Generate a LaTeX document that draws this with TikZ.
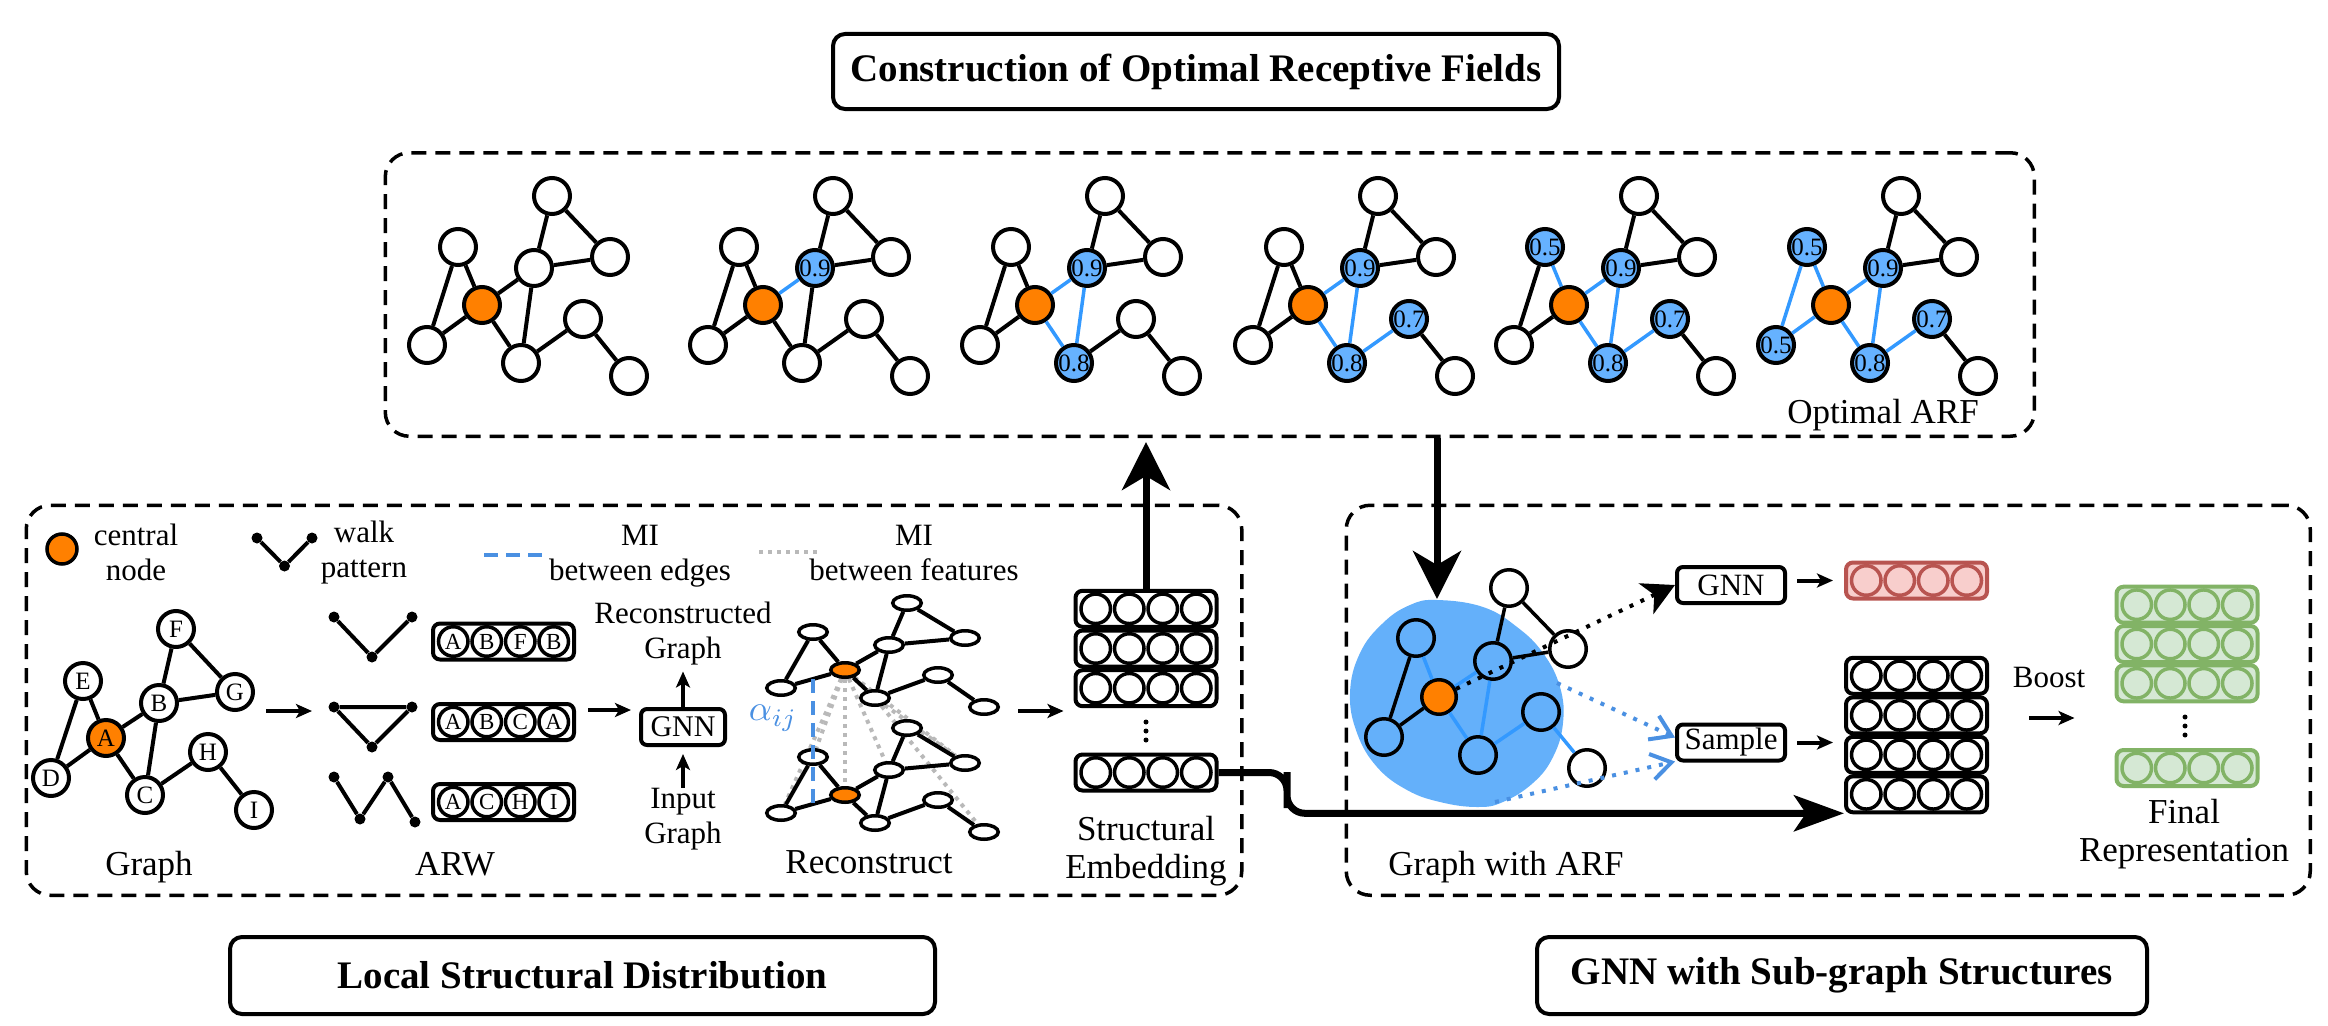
\documentclass[tikz,border=0pt]{standalone}
\usepackage{fontspec}
\setmainfont{Liberation Serif}
\usetikzlibrary{arrows.meta,calc,backgrounds,shapes.geometric}
\definecolor{orng}{RGB}{255,128,0}
\definecolor{nblue}{RGB}{102,178,255}
\definecolor{eblue}{RGB}{51,153,255}
\definecolor{blobc}{RGB}{100,176,250}
\definecolor{dblue}{RGB}{74,144,226}
\definecolor{agray}{RGB}{185,185,185}
\definecolor{redf}{RGB}{248,206,204}
\definecolor{redl}{RGB}{184,84,80}
\definecolor{grnf}{RGB}{213,232,212}
\definecolor{grnl}{RGB}{130,179,102}
\newcommand\vecbox[9]{%
  \node[#4] (#1) at (#2,#3) {};
  \node[#5] (#1a) at (#2-50.25,#3) {#6};
  \node[#5] (#1b) at (#2-16.75,#3) {#7};
  \node[#5] (#1c) at (#2+16.75,#3) {#8};
  \node[#5] (#1d) at (#2+50.25,#3) {#9};
}
\tikzset{
  wn/.style={circle,draw,line width=4pt,fill=white,minimum size=36pt,inner sep=0pt,font=\fontsize{25}{25}\selectfont},
  bn/.style={wn,fill=nblue},
  orn/.style={wn,fill=orng},
  ed/.style={line width=4pt,draw=black},
  be/.style={line width=3.5pt,draw=eblue},
  en/.style={ellipse,draw,line width=3.5pt,fill=white,minimum width=28.5pt,minimum height=14.5pt,inner sep=0pt},
  eo/.style={en,fill=orng},
  bgn/.style={wn,line width=3.5pt,fill=blobc,minimum size=36.5pt},
  bwn/.style={wn,line width=3.5pt,minimum size=36.5pt},
  bon/.style={wn,line width=3.5pt,minimum size=34.5pt,fill=orng},
  vbox/.style={draw,line width=4pt,rounded corners=7pt,minimum width=141pt,minimum height=36pt,inner sep=0pt},
  vc/.style={circle,draw,line width=3.5pt,minimum size=29.5pt,inner sep=0pt,font=\fontsize{23}{23}\selectfont},
  vboxr/.style={vbox,draw=redl,fill=redf},
  vcr/.style={vc,draw=redl,fill=redf},
  vboxg/.style={vbox,draw=grnl,fill=grnf},
  vcg/.style={vc,draw=grnl,fill=grnf},
  wdot/.style={circle,fill=black,inner sep=0pt,minimum size=11pt},
  ttl/.style={draw,line width=4pt,rounded corners=12pt,inner sep=0pt,font=\bfseries\fontsize{39}{39}\selectfont},
  dashbox/.style={draw,line width=3.5pt,dash pattern=on 15pt off 9pt,rounded corners=24pt,inner sep=0pt},
  smallbox/.style={draw,line width=4pt,rounded corners=6pt,inner sep=0pt,minimum width=108pt,minimum height=36pt,font=\fontsize{31}{31}\selectfont},
  lab/.style={inner sep=0pt,align=center,font=\fontsize{35}{38}\selectfont},
  slab/.style={inner sep=0pt,align=center,font=\fontsize{31}{35}\selectfont},
  tarr/.style={line width=4pt,-{Stealth[length=16pt,width=14pt,inset=4pt]}},
  varr/.style={line width=7pt,-{Stealth[length=48pt,width=48pt,inset=14pt]}},
  harr/.style={line width=7pt,-{Stealth[length=50pt,width=36pt,inset=12pt]}},
  gd/.style={draw=agray,line width=4pt,dash pattern=on 4pt off 5pt},
  vdotline/.style={line width=5pt,line cap=round,dash pattern=on 0pt off 9pt},
}
\begin{document}
\begin{tikzpicture}[x=1pt,y=-1pt]
\useasboundingbox (0,0) rectangle (2328,1025);

% title boxes
\node[ttl,minimum width=726pt,minimum height=75pt] (t1) at (1196,71.5) {Construction of Optimal Receptive Fields};
\node[ttl,minimum width=705pt,minimum height=77pt] (t2) at (582.5,975.5) {Local Structural Distribution};
\node[ttl,minimum width=610pt,minimum height=77pt] (t3) at (1842,975.5) {GNN with Sub-graph Structures};

% dashed frames
\node[dashbox,minimum width=1649pt,minimum height=283.5pt] (topbox) at (1209.8,294.5) {};
\node[dashbox,minimum width=1215.5pt,minimum height=390pt] (llbox) at (634,700.25) {};
\node[dashbox,minimum width=964pt,minimum height=390pt] (lrbox) at (1828.25,700.25) {};

% ---------- top: six stages ----------
\foreach \s/\dx in {0/0,1/281,2/553,3/826,4/1087,5/1349}{
\begin{scope}[xshift=\dx pt]
\ifnum\s>0 \tikzset{k1/.style={bn},l1/.style={be}}\else\tikzset{k1/.style={wn},l1/.style={ed}}\fi
\ifnum\s>1 \tikzset{k2/.style={bn},l2/.style={be}}\else\tikzset{k2/.style={wn},l2/.style={ed}}\fi
\ifnum\s>2 \tikzset{k3/.style={bn},l3/.style={be}}\else\tikzset{k3/.style={wn},l3/.style={ed}}\fi
\ifnum\s>3 \tikzset{k4/.style={bn},l4/.style={be}}\else\tikzset{k4/.style={wn},l4/.style={ed}}\fi
\ifnum\s>4 \tikzset{k5/.style={bn},l5/.style={be}}\else\tikzset{k5/.style={wn},l5/.style={ed}}\fi
\node[wn] (a\s) at (552,196) {};
\node[k4] (b\s) at (458,247) {\ifnum\s>3 0.5\fi};
\node[k1] (c\s) at (534,268) {\ifnum\s>0 0.9\fi};
\node[wn] (d\s) at (610,257) {};
\node[orn] (o\s) at (482,305) {};
\node[k5] (e\s) at (427,345) {\ifnum\s>4 0.5\fi};
\node[k2] (f\s) at (521,363) {\ifnum\s>1 0.8\fi};
\node[k3] (g\s) at (583,319) {\ifnum\s>2 0.7\fi};
\node[wn] (h\s) at (629,376) {};
\draw[ed] (c\s) -- (a\s);
\draw[ed] (a\s) -- (d\s);
\draw[ed] (c\s) -- (d\s);
\draw[ed] (g\s) -- (h\s);
\draw[l1] (o\s) -- (c\s);
\draw[l2] (o\s) -- (f\s);
\draw[l2] (c\s) -- (f\s);
\draw[l3] (f\s) -- (g\s);
\draw[l4] (b\s) -- (o\s);
\draw[l5] (b\s) -- (e\s);
\draw[l5] (e\s) -- (o\s);
\end{scope}}
\node[lab,anchor=base] (oarf) at (1883,423) {Optimal ARF};

% ---------- lower left ----------
% legend
\node[orn,line width=3.5pt,minimum size=30pt] (lgo) at (62,549) {};
\node[slab,anchor=north] (lcentral) at (136,524) {central\\node};
\node[wdot] (pl1) at (257,538) {};
\node[wdot] (pl2) at (284.5,566) {};
\node[wdot] (pl3) at (312,538) {};
\draw[ed] (pl1) -- (pl2) -- (pl3);
\node[slab,anchor=north] (lwalk) at (364,521) {walk\\pattern};
\coordinate (lb1) at (484,555);
\coordinate (lb2) at (543,555);
\draw[dblue,line width=4pt,dash pattern=on 14pt off 8pt] (lb1) -- (lb2);
\node[slab,anchor=north] (lmie) at (640,525) {MI\\between edges};
\coordinate (lg1) at (759,552);
\coordinate (lg2) at (821,552);
\draw[gd] (lg1) -- (lg2);
\node[slab,anchor=north] (lmif) at (914,525) {MI\\between features};

% input graph
\tikzset{lg/.style={wn}}
\node[lg] (nF) at (176,629) {F};
\node[lg] (nE) at (83,681) {E};
\node[lg] (nB) at (159,703) {B};
\node[lg] (nG) at (235,692) {G};
\node[orn] (nA) at (106,738) {A};
\node[lg] (nH) at (208,752) {H};
\node[lg] (nD) at (51,778) {D};
\node[lg] (nC) at (145,795) {C};
\node[lg] (nI) at (254,810) {I};
\draw[ed] (nE) -- (nD);
\draw[ed] (nE) -- (nA);
\draw[ed] (nD) -- (nA);
\draw[ed] (nA) -- (nB);
\draw[ed] (nB) -- (nF);
\draw[ed] (nF) -- (nG);
\draw[ed] (nB) -- (nG);
\draw[ed] (nB) -- (nC);
\draw[ed] (nA) -- (nC);
\draw[ed] (nC) -- (nH);
\draw[ed] (nH) -- (nI);
\node[lab,anchor=base] (glab) at (149,875) {Graph};

\coordinate (gaa) at (266,711);
\coordinate (gab) at (312,711);
\draw[tarr] (gaa) -- (gab);

% ARW walks
\node[wdot] (p1a) at (334,617) {};
\node[wdot] (p1b) at (372,657) {};
\node[wdot] (p1c) at (412,617) {};
\draw[ed] (p1a) -- (p1b) -- (p1c);
\node[wdot] (p2a) at (334,707) {};
\node[wdot] (p2b) at (412,707) {};
\node[wdot] (p2c) at (372,747) {};
\draw[ed] (p2a) -- (p2b) -- (p2c) -- (p2a);
\node[wdot] (p3a) at (334,777) {};
\node[wdot] (p3b) at (360,819) {};
\node[wdot] (p3c) at (388,777) {};
\node[wdot] (p3d) at (415,822) {};
\draw[ed] (p3a) -- (p3b) -- (p3c) -- (p3d);
\vecbox{arwa}{503.5}{641.5}{vbox}{vc}{A}{B}{F}{B}
\vecbox{arwb}{503.5}{722}{vbox}{vc}{A}{B}{C}{A}
\vecbox{arwc}{503.5}{802}{vbox}{vc}{A}{C}{H}{I}
\node[lab,anchor=base] (arwlab) at (455,875) {ARW};

% GNN
\coordinate (awa) at (588,710);
\node[smallbox,minimum width=84pt,font=\fontsize{30}{30}\selectfont] (gnnL) at (683,727) {GNN};
\draw[tarr,shorten >=8pt] (awa) -- (awa -| gnnL.west);
\node[slab,anchor=north] (reclab) at (683,602) {Reconstructed\\Graph};
\node[slab,anchor=north] (inlab) at (683,787.5) {Input\\Graph};
\draw[tarr,shorten >=6pt] (gnnL.north) -- (gnnL.north |- reclab.south);
\draw[tarr,shorten >=7pt] (gnnL.south |- inlab.north) -- (gnnL.south);

% Reconstruct graphs
\foreach \L/\dy in {u/0,w/125}{
\begin{scope}[yshift=-\dy pt]
\node[en] (\L1) at (907,603) {};
\node[en] (\L2) at (813,632) {};
\node[en] (\L3) at (889,645) {};
\node[en] (\L4) at (965,638) {};
\node[eo] (\L9) at (845,670) {};
\node[en] (\L5) at (781,688) {};
\node[en] (\L6) at (875,698) {};
\node[en] (\L7) at (938,675) {};
\node[en] (\L8) at (984,707) {};
\draw[ed] (\L2) -- (\L5);
\draw[ed] (\L2) -- (\L9);
\draw[ed] (\L5) -- (\L9);
\draw[ed] (\L9) -- (\L3);
\draw[ed] (\L3) -- (\L1);
\draw[ed] (\L1) -- (\L4);
\draw[ed] (\L3) -- (\L4);
\draw[ed] (\L3) -- (\L6);
\draw[ed] (\L9) -- (\L6);
\draw[ed] (\L6) -- (\L7);
\draw[ed] (\L7) -- (\L8);
\end{scope}}
\begin{scope}[on background layer]
\draw[gd] (u9) -- (w5);
\draw[gd] (u9) -- (w2);
\draw[gd] (u9) -- (w9);
\draw[gd] (u9) -- (w3);
\draw[gd] (u9) -- (w4);
\draw[gd] (u6) -- (w4);
\draw[gd] (u6) -- (w8);
\end{scope}
\draw[dblue,line width=4pt,dash pattern=on 14pt off 8pt] ($(u5)!0.5!(u9)$) -- ($(w5)!0.5!(w9)$);
\node[text=dblue,inner sep=0pt,scale=3.6] (alpha) at (773,718) {$\alpha_{ij}$};
\node[lab,anchor=base] (reclab2) at (869,873) {Reconstruct};

\coordinate (rca) at (1018,711);

% Structural embedding
\vecbox{sa}{1146}{608.8}{vbox}{vc}{}{}{}{}
\vecbox{sb}{1146}{648.5}{vbox}{vc}{}{}{}{}
\vecbox{sc}{1146}{688.2}{vbox}{vc}{}{}{}{}
\coordinate (sd1) at (1146,722);
\coordinate (sd2) at (1146,741);
\draw[vdotline] (sd1) -- (sd2);
\vecbox{emb}{1146}{772.5}{vbox}{vc}{}{}{}{}
\node[lab,anchor=north] (selab) at (1146,816) {Structural\\Embedding};
\draw[tarr,shorten >=10pt] (rca) -- (rca -| sa.west);

% ---------- lower right ----------
\fill[blobc] plot[smooth cycle,tension=0.7] coordinates {(1437,600) (1483,607) (1517,627) (1543,653) (1560,687) (1563,723) (1553,757) (1533,783) (1503,802) (1477,807) (1440,802) (1407,790) (1377,767) (1357,733) (1350,693) (1360,653) (1383,623) (1410,605)};
\node[bgn] (x1) at (1416,638) {};
\node[bgn] (x2) at (1384,737) {};
\node[bon] (x9) at (1439,697) {};
\node[bgn] (x3) at (1493,661) {};
\node[bwn] (x4) at (1509,588) {};
\node[bwn] (x5) at (1568,649) {};
\node[bgn] (x6) at (1478,755) {};
\node[bgn] (x7) at (1541,712) {};
\node[bwn] (x8) at (1587,768) {};
\draw[line width=3.5pt] (x1) -- (x2);
\draw[line width=3.5pt] (x2) -- (x9);
\draw[line width=3.5pt] (x3) -- (x4);
\draw[line width=3.5pt] (x4) -- (x5);
\draw[line width=3.5pt] (x3) -- (x5);
\draw[be] (x1) -- (x9);
\draw[be] (x9) -- (x3);
\draw[be] (x3) -- (x6);
\draw[be] (x9) -- (x6);
\draw[be] (x6) -- (x7);
\draw[be] (x7) -- (x8);
\node[lab,anchor=base] (gwarf) at (1506,875) {Graph with ARF};

\node[smallbox] (gnnR) at (1731,585) {GNN};
\node[smallbox] (smp) at (1731,742.5) {Sample};
\draw[line width=4pt,dash pattern=on 4pt off 8pt,-{Stealth[length=32pt,width=34pt,inset=9pt]}] (x9) -- (gnnR.west);
\coordinate (bp1) at (1557,683);
\coordinate (bp2) at (1495,802);
\draw[dblue,line width=4pt,dash pattern=on 4pt off 8pt,-{Straight Barb[length=20pt,width=26pt]}] (bp1) -- ([yshift=5pt]smp.west);
\draw[dblue,line width=4pt,dash pattern=on 4pt off 8pt,-{Straight Barb[length=20pt,width=26pt]}] (bp2) -- ([yshift=-19pt]smp.west);

\vecbox{redv}{1916.5}{580.5}{vboxr}{vcr}{}{}{}{}
\vecbox{rsa}{1916.5}{675.8}{vbox}{vc}{}{}{}{}
\vecbox{rsb}{1916.5}{715.3}{vbox}{vc}{}{}{}{}
\vecbox{rsc}{1916.5}{754.8}{vbox}{vc}{}{}{}{}
\vecbox{rsd}{1916.5}{794.3}{vbox}{vc}{}{}{}{}
\draw[tarr,shorten <=10pt,shorten >=11pt] (gnnR.east |- redv.west) -- (redv.west);
\draw[tarr,shorten <=10pt,shorten >=11pt] (smp.east) -- (smp.east -| rsa.west);

\node[slab,anchor=base] (boost) at (2049,687) {Boost};
\coordinate (boa) at (2029,718);
\vecbox{gva}{2187}{604.7}{vboxg}{vcg}{}{}{}{}
\vecbox{gvb}{2187}{644}{vboxg}{vcg}{}{}{}{}
\vecbox{gvc}{2187}{683.3}{vboxg}{vcg}{}{}{}{}
\coordinate (gd1) at (2185,717);
\coordinate (gd2) at (2185,736);
\draw[vdotline] (gd1) -- (gd2);
\vecbox{gvd}{2187}{768}{vboxg}{vcg}{}{}{}{}
\draw[tarr,shorten >=40pt] (boa) -- (boa -| gva.west);
\node[lab,anchor=north] (frlab) at (2184,799) {Final\\Representation};

% ---------- thick connectors ----------
\draw[varr,shorten >=4pt] (sa.north) -- (sa.north |- topbox.south);
\coordinate (arfin) at (1437,599);
\draw[varr] (arfin |- topbox.south) -- (arfin);
\coordinate (bend) at (1287,790);
\draw[harr,rounded corners=18pt] (emb.east) -| (bend) |- ([yshift=1pt]rsd.south west);
\end{tikzpicture}
\end{document}
